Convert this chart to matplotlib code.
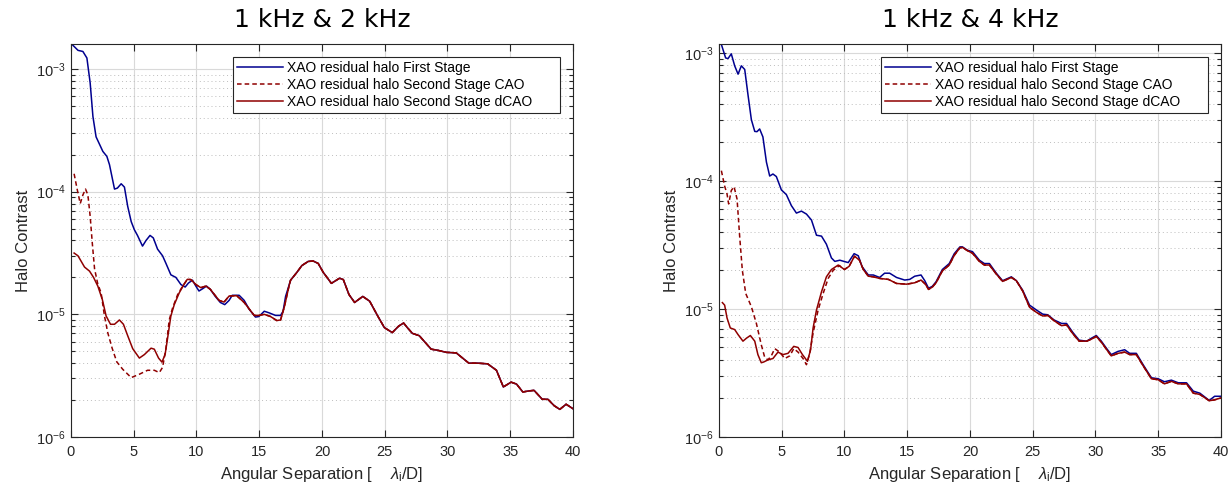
import numpy as np
import matplotlib.pyplot as plt
from matplotlib.ticker import LogLocator, NullFormatter, MultipleLocator

# ---------- left panel: 1 kHz & 2 kHz ----------
x_fs_l = [0.0, 0.56, 0.95, 1.27, 1.53, 1.75, 2.0, 2.54, 2.86, 3.07, 3.47, 3.7, 4.0, 4.26,
          4.52, 4.8, 5.05, 5.3, 5.7, 5.98, 6.3, 6.56, 6.9, 7.3, 7.57, 7.96, 8.36, 8.76,
          9.1, 9.36, 9.68, 9.95, 10.2, 10.5, 10.8, 11.1, 11.5, 11.9, 12.25, 12.6, 12.85,
          13.4, 13.8, 14.2, 14.7, 14.97, 15.4, 15.77, 16.3, 16.7, 16.9, 17.1, 17.5, 18.0,
          18.4, 18.9, 19.3, 19.7, 20.1, 20.75, 21.4, 21.7, 22.15, 22.6, 23.25, 23.8,
          24.44, 24.97, 25.6, 26.1, 26.5, 26.8, 27.2, 27.75, 28.7, 29.2, 29.9, 30.7,
          31.7, 32.4, 33.2, 33.9, 34.45, 35.07, 35.5, 36.0, 36.55, 36.9, 37.55, 38.0,
          38.5, 38.95, 39.45, 40.0]
y_fs_l = [1.62e-3, 1.42e-3, 1.39e-3, 1.23e-3, 7.7e-4, 4.1e-4, 2.8e-4, 2.13e-4, 1.94e-4,
          1.66e-4, 1.05e-4, 1.07e-4, 1.16e-4, 1.09e-4, 7.6e-5, 5.7e-5, 4.9e-5, 4.4e-5,
          3.6e-5, 4.0e-5, 4.4e-5, 4.2e-5, 3.4e-5, 3.0e-5, 2.6e-5, 2.1e-5, 2.0e-5, 1.75e-5,
          1.67e-5, 1.8e-5, 1.9e-5, 1.7e-5, 1.55e-5, 1.62e-5, 1.7e-5, 1.6e-5, 1.4e-5,
          1.25e-5, 1.2e-5, 1.3e-5, 1.43e-5, 1.43e-5, 1.3e-5, 1.1e-5, 9.5e-6, 9.6e-6,
          1.06e-5, 1.03e-5, 9.8e-6, 9.8e-6, 1.06e-5, 1.4e-5, 1.9e-5, 2.2e-5, 2.5e-5,
          2.7e-5, 2.72e-5, 2.6e-5, 2.2e-5, 1.79e-5, 1.97e-5, 1.92e-5, 1.45e-5, 1.25e-5,
          1.4e-5, 1.28e-5, 9.7e-6, 7.8e-6, 7.1e-6, 8.0e-6, 8.5e-6, 7.8e-6, 7.0e-6, 6.7e-6,
          5.2e-6, 5.1e-6, 4.9e-6, 4.85e-6, 4.0e-6, 4.0e-6, 3.95e-6, 3.5e-6, 2.56e-6,
          2.8e-6, 2.7e-6, 2.33e-6, 2.38e-6, 2.4e-6, 2.03e-6, 2.03e-6, 1.8e-6, 1.68e-6,
          1.85e-6, 1.7e-6]

x_dc_l = [0.25, 0.56, 1.08, 1.48, 1.8, 2.14, 2.5, 2.8, 3.15, 3.47, 3.86, 4.18, 4.52, 4.92,
          5.45, 5.85, 6.38, 6.64, 6.98, 7.25, 7.5, 7.7, 7.96, 8.23, 8.63, 9.0, 9.27, 9.55,
          9.95, 10.35, 10.75, 11.1, 11.8, 12.2, 12.6, 13.2, 13.8, 14.6, 14.97, 15.4, 15.9,
          16.4, 16.7, 17.0, 17.4]
y_dc_l = [3.16e-5, 3.0e-5, 2.43e-5, 2.25e-5, 2.0e-5, 1.7e-5, 1.32e-5, 9.7e-6, 8.3e-6,
          8.3e-6, 9.0e-6, 8.3e-6, 6.7e-6, 5.25e-6, 4.4e-6, 4.7e-6, 5.3e-6, 5.2e-6, 4.4e-6,
          4.08e-6, 4.7e-6, 6.4e-6, 9.7e-6, 1.2e-5, 1.5e-5, 1.75e-5, 1.93e-5, 1.92e-5,
          1.75e-5, 1.65e-5, 1.7e-5, 1.6e-5, 1.3e-5, 1.26e-5, 1.41e-5, 1.42e-5, 1.25e-5,
          9.8e-6, 9.8e-6, 1.0e-5, 9.6e-6, 8.9e-6, 9.0e-6, 1.15e-5, 1.75e-5]

x_ca_l = [0.25, 0.5, 0.74, 0.95, 1.16, 1.35, 1.53, 1.7, 1.88, 2.14, 2.4, 2.67, 2.93, 3.28,
          3.65, 4.13, 4.8, 5.45, 6.1, 6.64, 7.04, 7.3, 7.57, 7.83, 8.1, 8.5, 8.9, 9.27]
y_ca_l = [1.4e-4, 1.04e-4, 8.0e-5, 9.4e-5, 1.05e-4, 9.4e-5, 6.3e-5, 3.8e-5, 2.35e-5,
          1.76e-5, 1.5e-5, 9.7e-6, 7.1e-6, 5.3e-6, 4.1e-6, 3.56e-6, 3.05e-6, 3.25e-6,
          3.5e-6, 3.5e-6, 3.35e-6, 3.7e-6, 5.3e-6, 9.0e-6, 1.13e-5, 1.45e-5, 1.7e-5,
          1.93e-5]

# ---------- right panel: 1 kHz & 4 kHz ----------
x_fs_r = [0.19, 0.53, 0.72, 0.98, 1.25, 1.52, 1.78, 2.05, 2.31, 2.58, 2.85, 3.03, 3.24,
          3.5, 3.78, 4.04, 4.3, 4.57, 4.97, 5.37, 5.77, 6.17, 6.57, 6.97, 7.37, 7.77, 8.17,
          8.56, 8.96, 9.23, 9.63, 9.95, 10.3, 10.77, 11.1, 11.4, 11.9, 12.3, 12.8, 13.2,
          13.6, 14.15, 14.8, 15.2, 15.6, 16.1, 16.4, 16.7, 17.0, 17.3, 17.8, 18.35, 18.75,
          19.2, 19.4, 19.8, 20.2, 20.75, 21.15, 21.55, 22.1, 22.6, 23.3, 23.7, 24.2, 24.75,
          25.3, 25.8, 26.2, 26.7, 27.3, 27.7, 28.2, 28.7, 29.3, 29.67, 30.07, 30.47, 30.87,
          31.26, 31.8, 32.33, 32.73, 33.26, 33.8, 34.46, 35.0, 35.5, 36.05, 36.6, 37.26,
          37.8, 38.32, 39.07, 39.5, 40.0]
y_fs_r = [1.16e-3, 9.1e-4, 9.0e-4, 9.8e-4, 7.9e-4, 6.8e-4, 7.9e-4, 7.4e-4, 4.7e-4, 3.0e-4,
          2.43e-4, 2.42e-4, 2.54e-4, 2.2e-4, 1.4e-4, 1.09e-4, 1.13e-4, 1.08e-4, 8.5e-5,
          7.8e-5, 6.4e-5, 5.6e-5, 5.8e-5, 5.5e-5, 4.94e-5, 3.76e-5, 3.7e-5, 3.2e-5, 2.5e-5,
          2.35e-5, 2.4e-5, 2.35e-5, 2.3e-5, 2.7e-5, 2.6e-5, 2.14e-5, 1.84e-5, 1.84e-5,
          1.76e-5, 1.9e-5, 1.9e-5, 1.76e-5, 1.68e-5, 1.7e-5, 1.8e-5, 1.84e-5, 1.66e-5,
          1.45e-5, 1.5e-5, 1.63e-5, 2.03e-5, 2.26e-5, 2.7e-5, 3.05e-5, 3.05e-5, 2.87e-5,
          2.8e-5, 2.4e-5, 2.26e-5, 2.26e-5, 1.9e-5, 1.66e-5, 1.78e-5, 1.66e-5, 1.4e-5,
          1.07e-5, 9.8e-6, 9.1e-6, 9.0e-6, 8.2e-6, 7.7e-6, 7.7e-6, 6.55e-6, 5.7e-6, 5.6e-6,
          5.9e-6, 6.2e-6, 5.6e-6, 4.94e-6, 4.4e-6, 4.66e-6, 4.8e-6, 4.5e-6, 4.5e-6, 3.67e-6,
          2.9e-6, 2.85e-6, 2.7e-6, 2.78e-6, 2.65e-6, 2.65e-6, 2.28e-6, 2.2e-6, 1.93e-6,
          2.08e-6, 2.08e-6]

x_dc_r = [0.27, 0.45, 0.64, 0.9, 1.25, 1.52, 1.91, 2.18, 2.5, 2.85, 3.1, 3.37, 3.56, 3.9,
          4.3, 4.7, 5.1, 5.5, 5.96, 6.3, 6.65, 7.05, 7.3, 7.5, 7.77, 8.17, 8.56, 8.96, 9.5,
          10.0, 10.37, 10.8, 11.2, 11.5, 11.9, 12.3, 12.8, 13.5, 14.15, 14.95, 15.6, 16.1,
          16.45, 16.7, 17.0, 17.3, 17.8, 18.35, 18.75, 19.2, 19.4, 19.8, 20.2, 20.75,
          21.15, 21.55, 22.1, 22.6, 23.3, 23.7, 24.2, 24.75, 25.3, 25.8, 26.2, 26.7, 27.3,
          27.7, 28.2, 28.7, 29.3, 29.67, 30.07, 30.47, 30.87, 31.26, 31.8, 32.33, 32.73,
          33.26, 33.8, 34.46, 35.0, 35.5, 36.05, 36.6, 37.26, 37.8, 38.32, 39.07, 39.5, 40.0]
y_dc_r = [1.12e-5, 1.07e-5, 8.5e-6, 7.1e-6, 6.9e-6, 6.3e-6, 5.6e-6, 5.9e-6, 6.2e-6, 5.6e-6,
          4.4e-6, 3.8e-6, 3.85e-6, 4.0e-6, 4.1e-6, 4.6e-6, 4.4e-6, 4.5e-6, 5.1e-6, 5.0e-6,
          4.4e-6, 3.9e-6, 4.8e-6, 7.1e-6, 9.8e-6, 1.36e-5, 1.78e-5, 2.03e-5, 2.2e-5,
          2.03e-5, 2.15e-5, 2.58e-5, 2.4e-5, 2.03e-5, 1.8e-5, 1.78e-5, 1.73e-5, 1.7e-5,
          1.58e-5, 1.56e-5, 1.6e-5, 1.68e-5, 1.56e-5, 1.42e-5, 1.48e-5, 1.6e-5, 1.98e-5,
          2.2e-5, 2.62e-5, 3.0e-5, 3.02e-5, 2.85e-5, 2.72e-5, 2.35e-5, 2.2e-5, 2.2e-5,
          1.87e-5, 1.64e-5, 1.76e-5, 1.66e-5, 1.38e-5, 1.03e-5, 9.4e-6, 8.8e-6, 8.9e-6,
          8.1e-6, 7.4e-6, 7.5e-6, 6.4e-6, 5.6e-6, 5.6e-6, 5.8e-6, 6.1e-6, 5.5e-6, 4.85e-6,
          4.3e-6, 4.5e-6, 4.6e-6, 4.4e-6, 4.4e-6, 3.6e-6, 2.85e-6, 2.8e-6, 2.6e-6, 2.72e-6,
          2.6e-6, 2.6e-6, 2.2e-6, 2.15e-6, 1.92e-6, 1.95e-6, 2.02e-6]

x_ca_r = [0.19, 0.45, 0.64, 0.77, 0.98, 1.2, 1.44, 1.65, 1.86, 2.13, 2.58, 2.98, 3.37,
          3.64, 3.9, 4.17, 4.44, 4.84, 5.24, 5.64, 5.96, 6.3, 6.7, 6.97, 7.23, 7.5, 7.9,
          8.3, 8.7, 9.1, 9.6]
y_ca_r = [1.2e-4, 9.1e-5, 7.9e-5, 6.6e-5, 8.4e-5, 9.0e-5, 7.2e-5, 3.65e-5, 2.0e-5, 1.32e-5,
          1.04e-5, 7.7e-6, 5.25e-6, 4.2e-6, 4.0e-6, 4.3e-6, 4.9e-6, 4.6e-6, 4.1e-6, 4.3e-6,
          4.9e-6, 4.6e-6, 4.1e-6, 3.67e-6, 4.5e-6, 6.5e-6, 9.8e-6, 1.32e-5, 1.73e-5,
          2.0e-5, 2.18e-5]

titles = ["1 kHz & 2 kHz", "1 kHz & 4 kHz"]
labels = ["XAO residual halo First Stage",
          "XAO residual halo Second Stage CAO",
          "XAO residual halo Second Stage dCAO"]
ytops = [1.6e-3, 1.17e-3]

blue = "#00008f"
red = "#8f0000"

plt.rcParams["font.family"] = ["Liberation Sans", "DejaVu Sans"]
plt.rcParams["mathtext.fontset"] = "custom"
plt.rcParams["mathtext.rm"] = "Liberation Sans"
plt.rcParams["mathtext.it"] = "Liberation Sans:italic"

fig = plt.figure(figsize=(12.32, 4.86), dpi=100)
ax_l = fig.add_axes([0.0576, 0.1008, 0.4075, 0.8087])
ax_r = fig.add_axes([0.5836, 0.1008, 0.4074, 0.8087])


def tail(xs, ys, x0):
    # part of a series from x0 on (curves overlap there)
    xs = np.asarray(xs)
    ys = np.asarray(ys)
    m = xs > x0
    return xs[m], ys[m]


panels = [
    (ax_l, (x_fs_l, y_fs_l), (x_dc_l, y_dc_l), (x_ca_l, y_ca_l)),
    (ax_r, (x_fs_r, y_fs_r), (x_dc_r, y_dc_r), (x_ca_r, y_ca_r)),
]

for i, (ax, fs, dc, ca) in enumerate(panels):
    # extend short series with the overlapping part of the reference curve
    if i == 0:
        tx, ty = tail(x_fs_l, y_fs_l, dc[0][-1])
        dcx = np.concatenate([dc[0], tx])
        dcy = np.concatenate([dc[1], ty])
    else:
        dcx, dcy = np.asarray(dc[0]), np.asarray(dc[1])
    tx, ty = tail(dcx, dcy, ca[0][-1])
    cax = np.concatenate([ca[0], tx])
    cay = np.concatenate([ca[1], ty])

    ax.plot(fs[0], fs[1], color=blue, lw=1.1, label=labels[0] + "      ")
    ax.plot(cax, cay, color=red, lw=1.1, ls=(0, (3, 2)), label=labels[1] + "      ")
    ax.plot(dcx, dcy, color=red, lw=1.1, label=labels[2] + "      ")

    ax.set_yscale("log")
    ax.set_xlim(0, 40)
    ax.set_ylim(1e-6, ytops[i])
    ax.xaxis.set_major_locator(MultipleLocator(5))
    ax.yaxis.set_major_locator(LogLocator(base=10, numticks=10))
    ax.yaxis.set_minor_locator(LogLocator(base=10, subs=np.arange(2, 10), numticks=20))
    ax.yaxis.set_minor_formatter(NullFormatter())

    ax.grid(True, which="major", color="#d9d9d9", lw=0.8, ls="-")
    ax.grid(True, which="minor", axis="y", color="#bdbdbd", lw=0.7, ls=(0, (1, 3)))
    ax.set_axisbelow(True)

    ax.tick_params(which="both", direction="in", top=True, right=True,
                   labelsize=10.5, colors="#262626", width=0.8)
    ax.tick_params(which="major", length=5)
    ax.tick_params(axis="x", pad=6)
    ax.tick_params(which="minor", length=3)
    for s in ax.spines.values():
        s.set_color("#262626")
        s.set_linewidth(0.8)

    ax.set_xlabel("Angular Separation [    $\\lambda_\\mathrm{i}$/D]", fontsize=12,
                  color="#262626", labelpad=4)
    ax.set_ylabel("Halo Contrast", fontsize=12, color="#262626", labelpad=4)
    ax.set_title(titles[i], fontsize=18, family="DejaVu Sans", pad=12)

    leg = ax.legend(loc="upper right", bbox_to_anchor=(0.974, 0.968), borderaxespad=0,
                    fontsize=10, handlelength=3.3, handletextpad=0.3, borderpad=0.3,
                    labelspacing=0.22, fancybox=False, framealpha=1,
                    edgecolor="#262626")
    leg.get_frame().set_linewidth(0.8)

fig.savefig("out.png", dpi=100)
